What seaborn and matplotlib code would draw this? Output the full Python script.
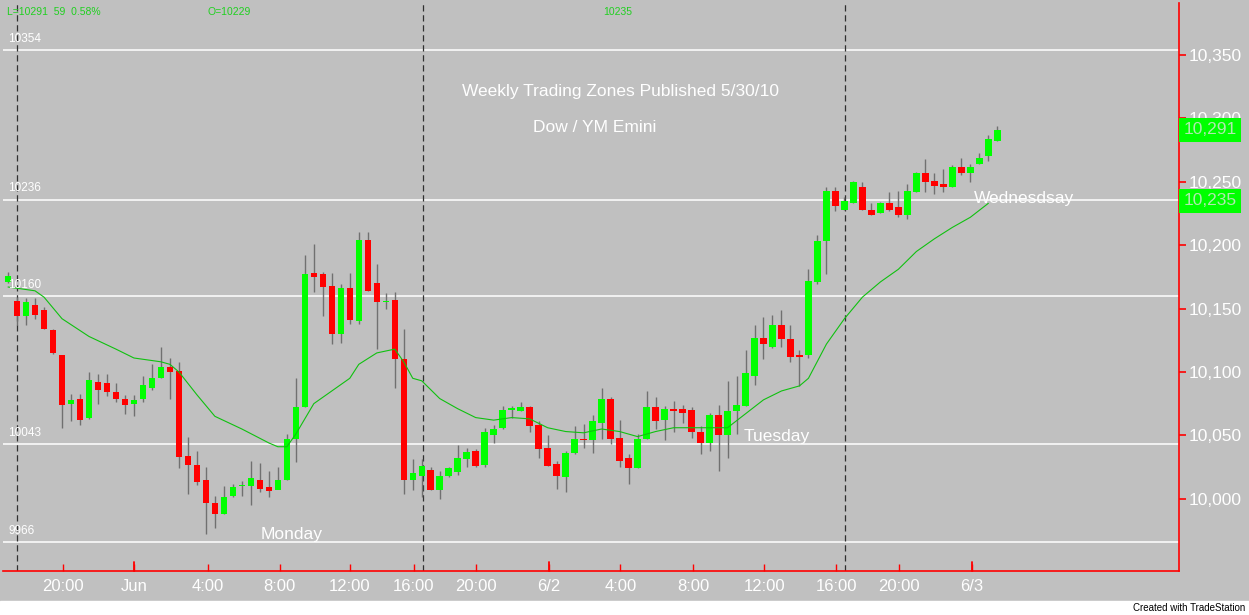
import numpy as np
import pandas as pd
import matplotlib
matplotlib.use("Agg")
import matplotlib.pyplot as plt
import seaborn as sns

opens = [10171,10156,10144,10153,10149,10133,10113,10075,10079,10064,10092,10091,10084,10079,10075,10079,10087,10095,10104,10101,
         10034,10027,10015,9997,9988,10002,10010,10010,10015,10009,10007,10015,10047,10072,10178,10177,10168,10130,10166,10140,
         10204,10170,10155,10157,10110,10015,10018,10023,10007,10018,10021,10031,10038,10027,10050,10056,10070,10069,10072,10058,
         10040,10027,10017,10036,10047,10046,10060,10079,10048,10032,10024,10047,10072,10062,10071,10071,10070,10053,10044,10066,
         10050,10069,10073,10097,10127,10120,10137,10126,10113,10113,10171,10203,10243,10228,10233,10246,10228,10225,10233,10230,
         10224,10242,10257,10251,10248,10246,10262,10257,10264,10270,10282]
closes = [10176,10144,10155,10145,10134,10115,10074,10078,10062,10094,10086,10084,10079,10074,10078,10090,10095,10104,10100,10033,
          10027,10013,9997,9988,10001,10009,10011,10016,10008,10006,10015,10047,10072,10177,10175,10167,10130,10166,10141,10204,
          10164,10155,10155,10110,10015,10020,10026,10007,10018,10024,10032,10037,10026,10053,10055,10070,10070,10072,10057,10039,
          10026,10018,10036,10047,10046,10061,10079,10047,10030,10024,10047,10072,10061,10071,10069,10068,10053,10044,10066,10050,
          10069,10074,10099,10127,10122,10137,10126,10112,10112,10172,10203,10243,10231,10235,10250,10228,10224,10233,10228,10224,
          10243,10257,10250,10247,10246,10262,10257,10262,10269,10284,10291]
highs = [10179,10159,10158,10158,10151,10134,10113,10083,10083,10100,10098,10098,10091,10082,10082,10097,10106,10120,10111,10108,
         10049,10038,10025,10002,10010,10012,10014,10030,10028,10022,10025,10051,10095,10192,10201,10179,10178,10169,10178,10210,
         10210,10185,10162,10163,10134,10031,10031,10025,10022,10025,10042,10040,10039,10056,10058,10073,10073,10076,10073,10061,
         10050,10030,10038,10057,10059,10066,10087,10080,10062,10035,10051,10085,10080,10073,10077,10074,10072,10057,10068,10074,
         10093,10097,10117,10137,10143,10145,10149,10137,10117,10181,10208,10246,10246,10238,10251,10250,10233,10234,10242,10243,
         10248,10258,10268,10257,10260,10263,10269,10264,10273,10287,10294]
lows = [10170,10137,10137,10142,10134,10114,10056,10061,10058,10063,10075,10081,10076,10067,10065,10076,10086,10095,10079,10024,
        10004,10011,9972,9977,9988,10001,10002,9995,10005,10001,10008,10015,10029,10072,10163,10144,10122,10123,10138,10138,
        10164,10118,10150,10087,10004,10007,10001,10007,10000,10017,10019,10025,10025,10025,10044,10055,10064,10069,10053,10032,
        10026,10008,10005,10035,10040,10036,10047,10043,10025,10012,10024,10047,10055,10046,10053,10060,10048,10035,10038,10022,
        10032,10051,10073,10090,10110,10119,10120,10108,10089,10111,10169,10177,10227,10228,10233,10228,10224,10225,10227,10222,
        10221,10242,10242,10240,10242,10246,10255,10250,10264,10266,10282]

ma_index = [1,4,5,7,10,13,15,18,19,20,22,24,27,30,31,32,33,35,37,39,40,42,44,45,46,47,49,51,53,55,57,59,61,63,65,67,69,71,73,
            75,77,79,81,83,85,87,89,90,92,94,96,98,100,102,104,106,108,110]
ma_values = [10167,10164,10159,10142,10128,10118,10111,10108,10106,10100,10082,10065,10055,10044,10041,10041,10051,10075,10085,
             10095,10106,10115,10118,10108,10095,10093,10079,10071,10064,10062,10064,10063,10056,10053,10052,10055,10053,10049,
             10053,10056,10056,10056,10056,10067,10078,10085,10089,10095,10122,10142,10159,10171,10181,10195,10205,10214,10222,10233]

tick_pos = [7.1,15.05,23.2,31.2,39.0,46.1,53.0,61.1,69.1,77.2,85.1,93.1,100.1,108.2]
tick_labels = ["20:00","Jun","4:00","8:00","12:00","16:00","20:00","6/2","4:00","8:00","12:00","16:00","20:00","6/3"]
major_ticks = [15.05, 61.1, 108.2]
session_lines = [2, 47.1, 94.05]
zone_levels = [10354, 10236, 10160, 10043, 9966]
day_labels = [("Monday", 32.5, 9972), ("Tuesday", 86.5, 10049), ("Wednesdsay", 114.0, 10237)]
price_ticks = list(range(10000, 10351, 50))

sns.set_theme(style="white")
plt.rcParams['font.family'] = ['Liberation Sans', 'DejaVu Sans']
BG = "#C0C0C0"
fig = plt.figure(figsize=(12.49, 6.15), dpi=100, facecolor=BG)
fig.patches.append(plt.Rectangle((0, 0), 1, 14/615, transform=fig.transFigure, color="white", zorder=0))
ax = fig.add_axes([0.0024, 44/615, 1176/1249, 1 - 47/615])
ax.set_facecolor(BG)

df = pd.DataFrame({"i": np.arange(1, len(opens) + 1), "o": opens, "c": closes, "h": highs, "l": lows})
up = df["c"] >= df["o"]
ax.vlines(df["i"], df["l"], df["h"], color="#707070", lw=1, zorder=2)
colors = np.where(up, "#00FF00", "#FF0000")
bottoms = np.minimum(df["o"], df["c"])
heights = np.maximum(np.abs(df["c"] - df["o"]), 1.2)
ax.bar(df["i"], heights, bottom=bottoms, width=0.72, color=colors, zorder=3, linewidth=0)

sns.lineplot(x=ma_index, y=ma_values, ax=ax, color="#10C010", lw=0.8, zorder=4)

for lv in zone_levels:
    ax.axhline(lv, color="white", lw=1.1, zorder=1)
    ax.text(1.0, lv + 4, str(lv), color="white", fontsize=8.5, ha="left", va="bottom", zorder=5)
for s in session_lines:
    ax.axvline(s, color="#303030", lw=0.9, ls=(0, (5, 3)), zorder=1)

for name, xi, yv in day_labels:
    ax.text(xi, yv, name, color="white", fontsize=12.5, ha="center", va="center")

ax.text(0.525, 0.845, "Weekly Trading Zones Published 5/30/10", transform=ax.transAxes,
        color="white", fontsize=12.5, ha="center", va="center")
ax.text(0.503, 0.78, "Dow / YM Emini", transform=ax.transAxes, color="white", fontsize=12.5, ha="center", va="center")

ax.text(0.003, 0.985, "L=10291  59  0.58%", transform=ax.transAxes, color="#20D020", fontsize=7.5, va="center")
ax.text(0.174, 0.985, "O=10229", transform=ax.transAxes, color="#20D020", fontsize=7.5, va="center")
ax.text(0.51, 0.985, "10235", transform=ax.transAxes, color="#20D020", fontsize=7.5, va="center")

ax.set_xlim(0.44, 131.2)
ax.set_ylim(9943, 10391)
ax.set_xticks(tick_pos)
ax.set_xticklabels(tick_labels, color="white", fontsize=12)
ax.yaxis.tick_right()
ax.set_yticks(price_ticks)
ax.set_yticklabels([f"{p:,}" for p in price_ticks], color="white", fontsize=12.5)
ax.tick_params(axis="y", right=True, left=False, direction="out", length=5, width=1.2, color="red", pad=2)
ax.tick_params(axis="x", bottom=True, direction="in", length=5, width=1, color="red", pad=6)
for mt in major_ticks:
    ax.plot([mt, mt], [9943, 9943 + 7], color="red", lw=1.3, zorder=6, clip_on=False)
for sp in ["top", "left"]:
    ax.spines[sp].set_visible(False)
ax.spines["right"].set_color("red")
ax.spines["bottom"].set_color("red")
ax.spines["right"].set_linewidth(1.2)
ax.spines["bottom"].set_linewidth(1.2)

for val in [10291, 10235]:
    ax.annotate(f"{val:,}", xy=(1.0, val), xycoords=("axes fraction", "data"), xytext=(3, 0),
                textcoords="offset points", color="#B0E8B0", fontsize=12.5, va="center", ha="left",
                bbox=dict(boxstyle="square,pad=0.25", fc="#00FF00", ec="none"), annotation_clip=False, zorder=10)

fig.text(0.997, 0.003, "Created with TradeStation", color="black", fontsize=7, ha="right", va="bottom")
fig.savefig("out.png", dpi=100, facecolor=BG)
